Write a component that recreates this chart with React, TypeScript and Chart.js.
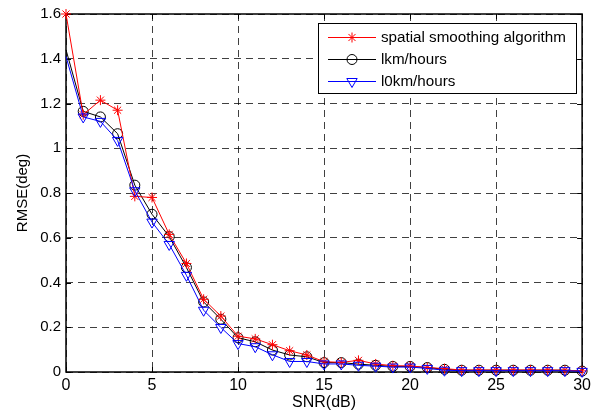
import React, { useEffect, useRef } from 'react';
import { Chart, registerables } from 'chart.js';

Chart.register(...registerables);

const snrDb = [0, 1, 2, 3, 4, 5, 6, 7, 8, 9, 10, 11, 12, 13, 14, 15, 16, 17, 18, 19, 20, 21, 22, 23, 24, 25, 26, 27, 28, 29, 30];

const spatialSmoothing = [1.6, 1.15, 1.215, 1.17, 0.785, 0.78, 0.615, 0.485, 0.325, 0.25, 0.16, 0.148, 0.122, 0.095, 0.076, 0.046, 0.043, 0.052, 0.036, 0.028, 0.027, 0.02, 0.015, 0.009, 0.009, 0.009, 0.009, 0.009, 0.009, 0.008, 0.005];
const km1PerHour = [1.44, 1.165, 1.14, 1.065, 0.835, 0.705, 0.605, 0.467, 0.313, 0.236, 0.153, 0.135, 0.098, 0.076, 0.068, 0.042, 0.042, 0.035, 0.03, 0.025, 0.025, 0.02, 0.012, 0.008, 0.008, 0.008, 0.008, 0.008, 0.008, 0.008, 0.004];
const km10PerHour = [1.41, 1.14, 1.12, 1.035, 0.81, 0.67, 0.57, 0.432, 0.276, 0.199, 0.127, 0.113, 0.077, 0.047, 0.047, 0.036, 0.036, 0.03, 0.026, 0.022, 0.022, 0.016, 0.008, 0.006, 0.006, 0.006, 0.006, 0.006, 0.006, 0.006, 0.003];

const seriesLabels = ['spatial smoothing algorithm', 'lkm/hours', 'l0km/hours'];
const xTicks = [0, 5, 10, 15, 20, 25, 30];
const yTicks = [0, 0.2, 0.4, 0.6, 0.8, 1, 1.2, 1.4, 1.6];
const xTitle = 'SNR(dB)';
const yTitle = 'RMSE(deg)';

const FONT = '"Liberation Sans", Arial, sans-serif';

function drawMarker(ctx: CanvasRenderingContext2D, kind: string, x: number, y: number, color: string) {
  ctx.save();
  ctx.strokeStyle = color;
  ctx.lineWidth = 1;
  ctx.setLineDash([]);
  ctx.beginPath();
  if (kind === 'star') {
    const r = 5;
    ctx.moveTo(x - r, y); ctx.lineTo(x + r, y);
    ctx.moveTo(x, y - r); ctx.lineTo(x, y + r);
    const d = r * Math.SQRT1_2;
    ctx.moveTo(x - d, y - d); ctx.lineTo(x + d, y + d);
    ctx.moveTo(x - d, y + d); ctx.lineTo(x + d, y - d);
  } else if (kind === 'circle') {
    ctx.arc(x, y, 5, 0, Math.PI * 2);
  } else {
    const r = 6;
    for (let i = 0; i < 3; i++) {
      const a = Math.PI + i * (2 * Math.PI / 3);
      const px = x + Math.sin(a) * r;
      const py = y - Math.cos(a) * r;
      if (i === 0) ctx.moveTo(px, py); else ctx.lineTo(px, py);
    }
    ctx.closePath();
  }
  ctx.stroke();
  ctx.restore();
}

const framePlugin = {
  id: 'matlabFrame',
  beforeDatasetsDraw(chart: any) {
    const { ctx, chartArea, scales } = chart;
    const { left, right, top, bottom } = chartArea;
    ctx.save();
    ctx.strokeStyle = '#000';
    ctx.lineWidth = 1;
    ctx.setLineDash([]);
    ctx.beginPath();
    xTicks.forEach((v) => {
      const px = Math.round(scales.x.getPixelForValue(v)) + 0.5;
      ctx.moveTo(px, bottom); ctx.lineTo(px, bottom - 5);
      ctx.moveTo(px, top); ctx.lineTo(px, top + 5);
    });
    yTicks.forEach((v) => {
      const py = Math.round(scales.y.getPixelForValue(v)) + 0.5;
      ctx.moveTo(left, py); ctx.lineTo(left + 5, py);
      ctx.moveTo(right, py); ctx.lineTo(right - 5, py);
    });
    ctx.stroke();
    ctx.lineWidth = 1.5;
    ctx.strokeRect(left, top, right - left, bottom - top);
    ctx.restore();
  },
};

const legendRows = [
  { kind: 'star', color: '#ff0000' },
  { kind: 'circle', color: '#000000' },
  { kind: 'triangle', color: '#0000ff' },
];

const legendPlugin = {
  id: 'matlabLegend',
  afterDraw(chart: any) {
    const ctx: CanvasRenderingContext2D = chart.ctx;
    ctx.save();
    const x0 = 318.5, y0 = 23.5, w = 258, h = 70;
    ctx.fillStyle = '#ffffff';
    ctx.fillRect(x0, y0, w, h);
    ctx.strokeStyle = '#000';
    ctx.lineWidth = 1;
    ctx.setLineDash([]);
    ctx.strokeRect(x0, y0, w, h);
    legendRows.forEach((r, i) => {
      const y = 37.5 + i * 22;
      ctx.strokeStyle = r.color;
      ctx.lineWidth = 1;
      ctx.beginPath();
      ctx.moveTo(328, y);
      ctx.lineTo(376, y);
      ctx.stroke();
      drawMarker(ctx, r.kind, 352, y, r.color);
      ctx.fillStyle = '#000';
      ctx.font = `15.2px ${FONT}`;
      ctx.textBaseline = 'middle';
      ctx.textAlign = 'left';
      ctx.fillText(seriesLabels[i], 381, y);
    });
    ctx.restore();
  },
};

export default function App() {
  const canvasRef = useRef<HTMLCanvasElement | null>(null);

  useEffect(() => {
    document.body.style.margin = '0';
    const canvas = canvasRef.current;
    if (!canvas) return;
    const toPoints = (vals: number[]) => snrDb.map((x, i) => ({ x, y: vals[i] }));
    const radiiSkipFirst = (r: number) => snrDb.map((_, i) => (i === 0 ? 0 : r));
    const chart = new Chart(canvas, {
      type: 'line',
      data: {
        datasets: [
          {
            label: seriesLabels[0],
            data: toPoints(spatialSmoothing),
            borderColor: '#ff0000',
            backgroundColor: 'transparent',
            pointBorderColor: '#ff0000',
            pointBackgroundColor: 'transparent',
            pointStyle: 'star',
            pointRadius: 5,
            pointBorderWidth: 1,
            borderWidth: 1,
            tension: 0,
            clip: false,
            order: 1,
          },
          {
            label: seriesLabels[1],
            data: toPoints(km1PerHour),
            borderColor: '#000000',
            backgroundColor: 'transparent',
            pointBorderColor: '#000000',
            pointBackgroundColor: 'transparent',
            pointStyle: 'circle',
            pointRadius: radiiSkipFirst(5),
            pointBorderWidth: 1,
            borderWidth: 1,
            tension: 0,
            clip: false,
            order: 2,
          },
          {
            label: seriesLabels[2],
            data: toPoints(km10PerHour),
            borderColor: '#0000ff',
            backgroundColor: 'transparent',
            pointBorderColor: '#0000ff',
            pointBackgroundColor: 'transparent',
            pointStyle: 'triangle',
            pointRotation: 180,
            pointRadius: radiiSkipFirst(6),
            pointBorderWidth: 1,
            borderWidth: 1,
            tension: 0,
            clip: false,
            order: 0,
          },
        ] as any,
      },
      options: {
        animation: false,
        responsive: false,
        maintainAspectRatio: false,
        devicePixelRatio: 1,
        layout: { padding: { top: 12, right: 12, left: 0, bottom: 0 } },
        plugins: {
          legend: { display: false },
          tooltip: { enabled: false },
        },
        scales: {
          x: {
            type: 'linear',
            min: 0,
            max: 30,
            afterFit: (s: any) => { s.height = 40; },
            afterBuildTicks: (s: any) => { s.ticks = xTicks.map((v) => ({ value: v })); },
            ticks: {
              color: '#000',
              font: { family: FONT, size: 16 },
              padding: 4,
              maxRotation: 0,
              callback: (v: any) => String(v),
            },
            grid: { color: 'rgba(0,0,0,0.75)', lineWidth: 1, drawTicks: false },
            border: { display: false, dash: [7, 5] },
            title: {
              display: true,
              text: xTitle,
              color: '#000',
              font: { family: FONT, size: 16 },
              padding: { top: 0, bottom: 0 },
            },
          },
          y: {
            type: 'linear',
            min: 0,
            max: 1.6,
            afterFit: (s: any) => { s.width = 66; },
            afterBuildTicks: (s: any) => { s.ticks = yTicks.map((v) => ({ value: v })); },
            ticks: {
              color: '#000',
              font: { family: FONT, size: 15 },
              padding: 5,
              callback: (v: any) => String(Math.round(Number(v) * 10) / 10),
            },
            grid: { color: 'rgba(0,0,0,0.75)', lineWidth: 1, drawTicks: false },
            border: { display: false, dash: [7, 5] },
            title: {
              display: true,
              text: yTitle,
              color: '#000',
              font: { family: FONT, size: 15 },
              padding: { top: 13.5, bottom: 0 },
            },
          },
        },
      },
      plugins: [framePlugin, legendPlugin],
    });
    return () => chart.destroy();
  }, []);

  return (
    <div style={{ width: 595, height: 412, background: '#fff' }}>
      <canvas ref={canvasRef} width={595} height={412} style={{ display: 'block' }} />
    </div>
  );
}
